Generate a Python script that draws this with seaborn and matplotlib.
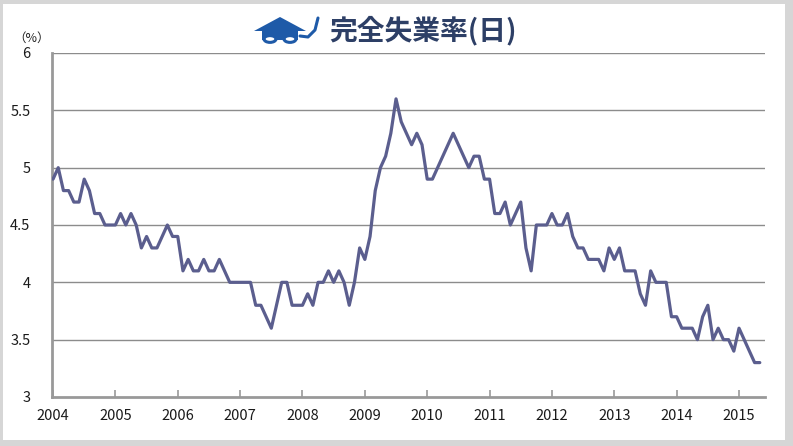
import numpy as np
import pandas as pd
import seaborn as sns
import matplotlib
matplotlib.use("Agg")
import matplotlib.pyplot as plt
from matplotlib.patches import Rectangle, Polygon, Circle

# monthly unemployment rate (%), Jan 2004 - May 2015
rate_2004 = [4.9, 5.0, 4.8, 4.8, 4.7, 4.7, 4.9, 4.8, 4.6, 4.6, 4.5, 4.5]
rate_2005 = [4.5, 4.6, 4.5, 4.6, 4.5, 4.3, 4.4, 4.3, 4.3, 4.4, 4.5, 4.4]
rate_2006 = [4.4, 4.1, 4.2, 4.1, 4.1, 4.2, 4.1, 4.1, 4.2, 4.1, 4.0, 4.0]
rate_2007 = [4.0, 4.0, 4.0, 3.8, 3.8, 3.7, 3.6, 3.8, 4.0, 4.0, 3.8, 3.8]
rate_2008 = [3.8, 3.9, 3.8, 4.0, 4.0, 4.1, 4.0, 4.1, 4.0, 3.8, 4.0, 4.3]
rate_2009 = [4.2, 4.4, 4.8, 5.0, 5.1, 5.3, 5.6, 5.4, 5.3, 5.2, 5.3, 5.2]
rate_2010 = [4.9, 4.9, 5.0, 5.1, 5.2, 5.3, 5.2, 5.1, 5.0, 5.1, 5.1, 4.9]
rate_2011 = [4.9, 4.6, 4.6, 4.7, 4.5, 4.6, 4.7, 4.3, 4.1, 4.5, 4.5, 4.5]
rate_2012 = [4.6, 4.5, 4.5, 4.6, 4.4, 4.3, 4.3, 4.2, 4.2, 4.2, 4.1, 4.3]
rate_2013 = [4.2, 4.3, 4.1, 4.1, 4.1, 3.9, 3.8, 4.1, 4.0, 4.0, 4.0, 3.7]
rate_2014 = [3.7, 3.6, 3.6, 3.6, 3.5, 3.7, 3.8, 3.5, 3.6, 3.5, 3.5, 3.4]
rate_2015 = [3.6, 3.5, 3.4, 3.3, 3.3]

years = list(range(2004, 2016))
yticks = [3, 3.5, 4, 4.5, 5, 5.5, 6]
ytick_labels = ["3", "3.5", "4", "4.5", "5", "5.5", "6"]

rates = (rate_2004 + rate_2005 + rate_2006 + rate_2007 + rate_2008 + rate_2009
         + rate_2010 + rate_2011 + rate_2012 + rate_2013 + rate_2014 + rate_2015)
df = pd.DataFrame({"month": np.arange(len(rates)), "rate": rates})

sns.set_style("white")
plt.rcParams['font.family'] = ['Noto Sans CJK JP', 'DejaVu Sans']

fig = plt.figure(figsize=(7.93, 4.46), dpi=100)
fig.patch.set_facecolor("#d6d6d6")
# white chart panel inside the grey frame
fig.patches.append(Rectangle((3 / 793, 6 / 446), 782 / 793, 436 / 446,
                             transform=fig.transFigure, facecolor="white",
                             edgecolor="none", zorder=-10))

ax = fig.add_axes([52 / 793, 1 - 397 / 446, 713 / 793, 344 / 446])
ax.set_facecolor("none")
ax.set_zorder(2)

for y in yticks[1:]:
    ax.axhline(y, color="#8c8c8c", lw=1.0, zorder=1)

sns.lineplot(data=df, x="month", y="rate", ax=ax, color="#5b5e8e", lw=2.3, zorder=3)

ax.set_xlim(-0.2, 137)
ax.set_ylim(3, 6)
ax.set_xticks([12 * k for k in range(len(years))])
ax.set_xticklabels([str(y) for y in years], fontsize=10.5, color="#1a1a1a")
ax.set_yticks(yticks)
ax.set_yticklabels(ytick_labels, fontsize=10.5, color="#1a1a1a")
ax.tick_params(axis="x", bottom=True, direction="in", length=5, width=1.2,
               color="#999999", pad=9)
ax.tick_params(axis="y", left=False, pad=12)
ax.set_xlabel("")
ax.set_ylabel("")

for side in ["top", "right"]:
    ax.spines[side].set_visible(False)
for side in ["left", "bottom"]:
    ax.spines[side].set_color("#999999")
    ax.spines[side].set_linewidth(2.0)

fig.text(32 / 793, 1 - 38 / 446, "（%）", fontsize=9, color="#222222",
         ha="center", va="center")

# title with a small mortarboard mark
fig.text(329 / 793, 1 - 31 / 446, "完全失業率(日)", fontsize=20, fontweight="bold",
         color="#2d3f66", ha="left", va="center")
blue = "#1e5aa8"
fig.patches.append(Polygon([(254 / 793, 1 - 31 / 446), (280 / 793, 1 - 17 / 446),
                            (306 / 793, 1 - 31 / 446)], closed=True,
                           transform=fig.transFigure, facecolor=blue, edgecolor="none"))
fig.patches.append(Rectangle((262 / 793, 1 - 40 / 446), 36 / 793, 10 / 446,
                             transform=fig.transFigure, facecolor=blue, edgecolor="none"))
for cx in (270, 290):
    fig.patches.append(Circle((cx / 793, 1 - 39 / 446), 6 / 793,
                              transform=fig.transFigure, facecolor="white",
                              edgecolor=blue, lw=2.2))
fig.lines.append(plt.Line2D([300 / 793, 308 / 793, 315 / 793, 318 / 793],
                            [1 - 36 / 446, 1 - 37 / 446, 1 - 30 / 446, 1 - 18 / 446],
                            transform=fig.transFigure, color=blue, lw=2.2))

fig.savefig("out.png", dpi=100, facecolor=fig.get_facecolor())
